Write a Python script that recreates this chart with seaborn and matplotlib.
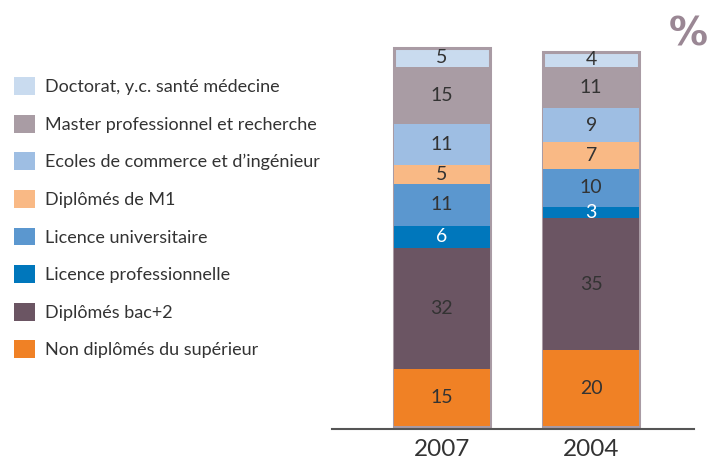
import numpy as np
import pandas as pd
import matplotlib.pyplot as plt
import seaborn as sns
from matplotlib.patches import Patch

sns.set_style('white')
plt.rcParams['font.family'] = ['Lato', 'DejaVu Sans']

# Données (%), du haut vers le bas de la pile
years = ['2007', '2004']
categories = [
    'Doctorat, y.c. santé médecine',
    'Master professionnel et recherche',
    "Ecoles de commerce et d\u2019ingénieur",
    'Diplômés de M1',
    'Licence universitaire',
    'Licence professionnelle',
    'Diplômés bac+2',
    'Non diplômés du supérieur',
]
values_2007 = [5, 15, 11, 5, 11, 6, 32, 15]
values_2004 = [4, 11, 9, 7, 10, 3, 35, 20]
colors = ['#c9dbef', '#a99ca4', '#9ebee3', '#f9b985',
          '#5b97cf', '#0077bc', '#6b5563', '#f08125']
white_labels = ['Licence professionnelle']

# pile : du bas vers le haut
df = pd.DataFrame({'cat': categories, '2007': values_2007, '2004': values_2004})
stack = df.iloc[::-1].reset_index(drop=True)
cum = stack[years].cumsum()
bottoms = cum - stack[years]

fig = plt.figure(figsize=(7.09, 4.62), dpi=100)
ax = fig.add_axes([0.468, 0.0714, 0.511, 0.864])

# barres cumulées, du plus haut au plus bas pour superposer
n = len(stack)
for i in range(n - 1, -1, -1):
    d = pd.DataFrame({'year': years, 'val': cum.iloc[i].values})
    top = i == n - 1
    sns.barplot(data=d, x='year', y='val', color=colors[::-1][i], width=0.64,
                saturation=1, ax=ax, edgecolor='#a99ba4' if top else 'none',
                linewidth=2.2 if top else 0)

# étiquettes
for i in range(n):
    for j, y in enumerate(years):
        v = stack[y].iloc[i]
        mid = bottoms[y].iloc[i] + v / 2
        c = 'white' if stack['cat'].iloc[i] in white_labels else '#333333'
        ax.text(j, mid, str(v), ha='center', va='center', fontsize=14, color=c)

ax.set_xlim(-0.738, 1.69)
ax.set_ylim(-0.8, 104.8)
ax.set_xlabel('')
ax.set_ylabel('')
ax.set_yticks([])
ax.tick_params(axis='x', length=0, labelsize=17.5, labelcolor='#333333', pad=7)
for s in ['top', 'right', 'left']:
    ax.spines[s].set_visible(False)
ax.spines['bottom'].set_color('#555555')
ax.spines['bottom'].set_linewidth(1.5)

fig.text(0.998, 0.925, '%', ha='right', va='center', fontsize=28,
         fontweight='heavy', color='#9a8794', family='DejaVu Sans')

handles = [Patch(facecolor=c, edgecolor='none') for c in colors]
fig.legend(handles, categories, loc='upper left', bbox_to_anchor=(-0.0035, 0.868),
           frameon=False, fontsize=13, handlelength=1.15, handleheight=1.15,
           labelspacing=1.08, handletextpad=0.6, labelcolor='#333333')

fig.savefig('out.png', dpi=100)
